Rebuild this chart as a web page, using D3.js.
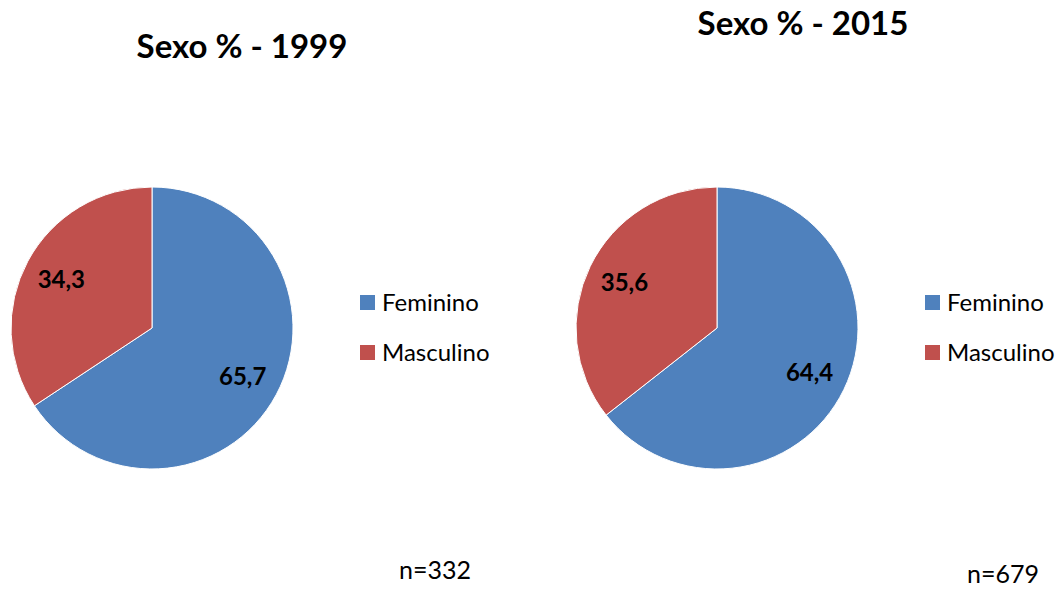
<!DOCTYPE html>
<html lang="pt">
<head>
<meta charset="utf-8">
<title>Sexo %</title>
<style>
  body { margin: 0; background: #fff; }
  text { font-family: Lato, "Open Sans", sans-serif; fill: #000; }
</style>
</head>
<body>
<script src="https://cdn.jsdelivr.net/npm/d3@7"></script>
<script>
  // data
  var categories = ["Feminino", "Masculino"];
  var years = ["1999", "2015"];
  var values1999 = [65.7, 34.3];
  var values2015 = [64.4, 35.6];
  var sampleSizes = [332, 679];
  var colors = ["#4F81BD", "#C0504D"];

  var w = 1063, h = 589;
  var svg = d3.select("body").append("svg").attr("width", w).attr("height", h);

  var color = d3.scaleOrdinal().domain(categories).range(colors);
  var pie = d3.pie().sort(null).value(function(d) { return d.value; });
  var r = 141;
  var arc = d3.arc().innerRadius(0).outerRadius(r);
  var labelArc = d3.arc().innerRadius(r * 0.73).outerRadius(r * 0.73);

  // layout for each panel
  var panels = [
    { values: values1999, cx: 152, cy: 328, titleX: 242, titleY: 58, legX: 360, nX: 435, nY: 579 },
    { values: values2015, cx: 717, cy: 328, titleX: 803, titleY: 35, legX: 925, nX: 1003, nY: 583 }
  ];

  panels.forEach(function(p, i) {
    var data = categories.map(function(c, j) { return { cat: c, value: p.values[j] }; });

    svg.append("text")
      .attr("x", p.titleX).attr("y", p.titleY)
      .attr("text-anchor", "middle")
      .style("font-size", "33px").style("font-weight", "bold")
      .text("Sexo % - " + years[i]);

    var g = svg.append("g").attr("transform", "translate(" + p.cx + "," + p.cy + ")");
    var arcs = pie(data);

    g.selectAll("path").data(arcs).enter().append("path")
      .attr("d", arc)
      .attr("fill", function(d) { return color(d.data.cat); })
      .attr("stroke", "#fff").attr("stroke-width", 1);

    g.selectAll("text.lbl").data(arcs).enter().append("text")
      .attr("class", "lbl")
      .attr("transform", function(d) { return "translate(" + labelArc.centroid(d) + ")"; })
      .attr("text-anchor", "middle").attr("dy", "0.35em")
      .style("font-size", "24px").style("font-weight", "bold")
      .text(function(d) { return d3.format(".1f")(d.data.value).replace(".", ","); });

    // legend
    var leg = svg.append("g").attr("transform", "translate(" + p.legX + ",295)");
    var item = leg.selectAll("g").data(categories).enter().append("g")
      .attr("transform", function(d, j) { return "translate(0," + (j * 50) + ")"; });
    item.append("rect").attr("width", 15).attr("height", 15)
      .attr("fill", function(d) { return color(d); });
    item.append("text").attr("x", 22).attr("y", 8).attr("dy", "0.35em")
      .style("font-size", "24px").text(function(d) { return d; });

    svg.append("text")
      .attr("x", p.nX).attr("y", p.nY)
      .attr("text-anchor", "middle")
      .style("font-size", "25px")
      .text("n=" + sampleSizes[i]);
  });
</script>
</body>
</html>
